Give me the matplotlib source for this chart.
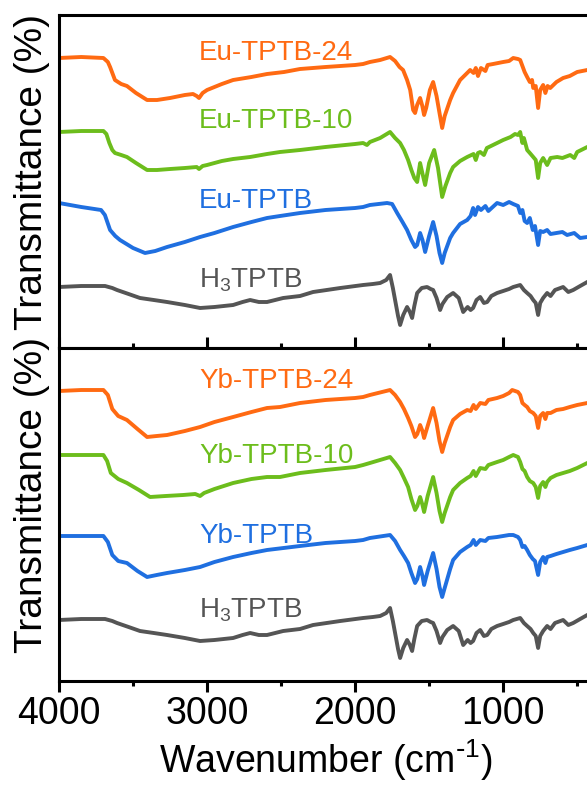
import matplotlib
matplotlib.use('Agg')
import matplotlib.pyplot as plt
from matplotlib.ticker import MultipleLocator

plt.rcParams['font.family'] = ['Liberation Sans', 'DejaVu Sans']
plt.rcParams['mathtext.default'] = 'regular'

# colours of the four series
ORANGE = '#FF6A12'
GREEN = '#6CBD1C'
BLUE = '#1F6FE0'
GRAY = '#555555'

# ---- data (wavenumber in cm-1, transmittance in arbitrary offset units) ----
# H3TPTB ligand, same spectrum in both panels
h3_wn = [4000, 3850, 3689, 3640, 3608, 3530, 3453, 3360, 3270, 3150, 3047, 2950, 2824, 2760, 2709,
         2650, 2595, 2540, 2486, 2372, 2284, 2100, 1946, 1880, 1831, 1790, 1764, 1745, 1730, 1710,
         1696, 1675, 1649, 1630, 1615, 1600, 1581, 1550, 1514, 1490, 1473, 1450, 1426, 1410, 1378,
         1338, 1300, 1270, 1240, 1220, 1203, 1180, 1155, 1130, 1108, 1080, 1041, 1000, 960, 932,
         885, 860, 838, 815, 797, 780, 764, 750, 730, 703, 680, 650, 595, 560, 527, 480, 432, 400]
h3_t = [61, 62, 62, 60, 58, 54, 50, 48, 46, 43, 40, 41, 43, 46, 48,
        46, 46, 48, 50, 52, 56, 60, 63, 64, 65, 68, 73, 60, 48, 32,
        23, 33, 41, 36, 30, 42, 55, 60, 61, 59, 58, 50, 38, 44, 51,
        55, 50, 36, 41, 38, 40, 48, 51, 45, 46, 52, 55, 57, 59, 61,
        63, 58, 55, 52, 48, 45, 33, 45, 50, 55, 52, 58, 61, 56, 58, 62, 66, 68]

# top panel: Eu samples
eu24_wn = [4000, 3850, 3700, 3670, 3655, 3622, 3580, 3541, 3480, 3405, 3338, 3250, 3150, 3095, 3070,
           3054, 3030, 3000, 2900, 2824, 2700, 2595, 2480, 2372, 2200, 2000, 1946, 1900, 1831, 1764,
           1730, 1700, 1676, 1649, 1628, 1608, 1595, 1581, 1561, 1546, 1534, 1520, 1495, 1473, 1450,
           1430, 1412, 1395, 1358, 1338, 1291, 1250, 1223, 1200, 1185, 1170, 1150, 1120, 1105, 1068,
           1000, 960, 932, 900, 885, 870, 855, 838, 820, 805, 797, 780, 764, 750, 730,
           715, 700, 682, 640, 595, 550, 500, 432, 400]
eu24_t = [290, 291, 290, 286, 281, 268, 264, 262, 255, 248, 248, 250, 253, 254, 252,
          250, 255, 258, 264, 268, 271, 274, 276, 279, 281, 283, 284, 286, 288, 291,
          287, 281, 278, 268, 258, 238, 235, 243, 250, 242, 233, 240, 258, 266, 252,
          235, 220, 232, 248, 255, 268, 274, 278, 275, 280, 272, 280, 277, 283, 284,
          286, 287, 290, 289, 288, 282, 276, 271, 266, 268, 260, 262, 240, 258, 263,
          255, 262, 260, 266, 270, 272, 276, 278, 279]

eu10_wn = [4000, 3850, 3700, 3680, 3660, 3640, 3622, 3580, 3541, 3480, 3405, 3338, 3250, 3150, 3070,
           3054, 3030, 3000, 2900, 2824, 2709, 2595, 2507, 2372, 2200, 2000, 1946, 1920, 1900, 1831,
           1764, 1730, 1696, 1670, 1642, 1620, 1600, 1581, 1561, 1546, 1527, 1500, 1466, 1440, 1412,
           1390, 1358, 1338, 1291, 1243, 1200, 1185, 1170, 1155, 1130, 1110, 1041, 1000, 950, 920,
           900, 885, 870, 860, 838, 820, 797, 780, 764, 750, 730, 703, 680, 635, 600,
           547, 520, 500, 432, 400]
eu10_t = [216, 217, 217, 214, 205, 198, 195, 193, 191, 185, 178, 178, 179, 180, 181,
          179, 182, 183, 187, 189, 191, 194, 196, 198, 201, 204, 205, 203, 206, 210,
          216, 210, 205, 198, 188, 178, 170, 166, 185, 175, 163, 185, 198, 180, 151,
          162, 175, 181, 187, 191, 194, 188, 195, 196, 193, 200, 205, 208, 211, 214,
          213, 216, 205, 210, 198, 195, 191, 188, 170, 185, 190, 183, 190, 191, 190,
          193, 190, 196, 201, 202]

eu_wn = [4000, 3850, 3716, 3690, 3655, 3620, 3588, 3500, 3419, 3350, 3270, 3150, 3047, 2950, 2824,
         2700, 2595, 2507, 2372, 2200, 2000, 1946, 1900, 1784, 1750, 1716, 1680, 1649, 1620, 1595,
         1581, 1561, 1545, 1527, 1500, 1473, 1450, 1430, 1412, 1395, 1358, 1338, 1291, 1243, 1220,
         1203, 1190, 1170, 1150, 1120, 1100, 1041, 1000, 960, 932, 900, 885, 870, 855, 838,
         820, 800, 785, 764, 750, 730, 703, 680, 640, 600, 568, 520, 480, 432, 400]
eu_t = [145, 141, 138, 133, 118, 112, 108, 100, 95, 97, 101, 106, 111, 115, 121,
        126, 130, 132, 135, 138, 140, 141, 143, 145, 144, 135, 126, 118, 108, 101,
        103, 115, 108, 96, 112, 126, 112, 95, 85, 95, 110, 115, 124, 128, 132,
        140, 133, 141, 138, 142, 137, 145, 143, 146, 144, 142, 135, 138, 127, 125,
        130, 118, 122, 103, 117, 116, 118, 114, 115, 116, 113, 115, 110, 111, 112]

# bottom panel: Yb samples
yb24_wn = [4000, 3850, 3700, 3670, 3640, 3600, 3541, 3470, 3405, 3340, 3270, 3150, 3047, 2950, 2824,
           2700, 2595, 2507, 2372, 2200, 2000, 1946, 1900, 1764, 1730, 1696, 1670, 1642, 1620, 1595,
           1580, 1561, 1545, 1534, 1510, 1473, 1450, 1430, 1412, 1395, 1358, 1338, 1291, 1243, 1220,
           1200, 1185, 1155, 1120, 1100, 1041, 1000, 960, 939, 900, 885, 870, 855, 838, 820,
           797, 780, 764, 750, 730, 715, 703, 680, 640, 595, 550, 500, 432, 400]
yb24_t = [290, 291, 291, 286, 272, 265, 261, 252, 244, 245, 246, 250, 254, 259, 264,
          269, 273, 274, 278, 281, 283, 284, 286, 291, 286, 279, 272, 263, 255, 244,
          247, 256, 250, 243, 255, 273, 258, 240, 229, 238, 254, 261, 267, 271, 270,
          276, 272, 278, 277, 281, 283, 285, 288, 291, 289, 286, 278, 276, 274, 270,
          268, 265, 253, 265, 268, 262, 268, 268, 271, 272, 274, 276, 278, 279]

yb10_wn = [4000, 3850, 3700, 3675, 3650, 3600, 3541, 3460, 3385, 3280, 3162, 3080, 3047, 3020, 2950,
           2824, 2700, 2595, 2507, 2372, 2200, 2000, 1946, 1900, 1764, 1730, 1696, 1670, 1642, 1620,
           1595, 1580, 1561, 1545, 1534, 1510, 1473, 1450, 1430, 1412, 1395, 1358, 1338, 1291, 1243,
           1220, 1200, 1185, 1155, 1120, 1100, 1041, 1000, 960, 932, 900, 885, 870, 855, 838,
           820, 797, 780, 764, 750, 730, 715, 703, 680, 640, 595, 550, 500, 432, 400]
yb10_t = [226, 226, 226, 220, 208, 202, 198, 191, 184, 185, 186, 187, 185, 188, 192,
          198, 202, 204, 204, 208, 211, 214, 216, 218, 224, 218, 211, 203, 194, 182,
          171, 175, 184, 176, 169, 185, 204, 188, 170, 159, 168, 184, 191, 198, 203,
          205, 210, 205, 213, 212, 216, 219, 221, 224, 226, 224, 219, 212, 210, 204,
          200, 198, 194, 183, 195, 199, 194, 199, 203, 206, 208, 210, 213, 218, 219]

yb_wn = [4000, 3850, 3700, 3670, 3640, 3600, 3541, 3470, 3405, 3340, 3270, 3150, 3047, 2950, 2824,
         2700, 2595, 2372, 2200, 2000, 1946, 1900, 1764, 1730, 1696, 1670, 1642, 1620, 1595, 1580,
         1561, 1545, 1534, 1510, 1473, 1450, 1430, 1412, 1395, 1358, 1338, 1291, 1243, 1220, 1200,
         1185, 1155, 1120, 1100, 1041, 1000, 960, 932, 900, 885, 870, 855, 838, 820, 800,
         785, 764, 750, 730, 715, 703, 680, 640, 595, 550, 500, 432, 400]
yb_t = [145, 145, 145, 139, 126, 120, 118, 110, 104, 106, 108, 111, 114, 119, 124,
        128, 131, 135, 138, 140, 141, 143, 146, 140, 131, 125, 118, 108, 98, 102,
        114, 105, 96, 110, 128, 112, 94, 84, 93, 112, 121, 129, 134, 136, 141,
        136, 141, 140, 143, 144, 145, 146, 146, 144, 141, 134, 135, 131, 126, 122,
        120, 106, 119, 124, 118, 124, 125, 127, 129, 131, 133, 136, 137]

top_series = [(eu24_wn, eu24_t, ORANGE, 'Eu-TPTB-24', 288),
              (eu10_wn, eu10_t, GREEN, 'Eu-TPTB-10', 220),
              (eu_wn, eu_t, BLUE, 'Eu-TPTB', 140),
              (h3_wn, h3_t, GRAY, 'H$_3$TPTB', 61)]
bot_series = [(yb24_wn, yb24_t, ORANGE, 'Yb-TPTB-24', 293),
              (yb10_wn, yb10_t, GREEN, 'Yb-TPTB-10', 218),
              (yb_wn, yb_t, BLUE, 'Yb-TPTB', 138),
              (h3_wn, h3_t, GRAY, 'H$_3$TPTB', 64)]
LABEL_X = 3054

# ---- figure ----
W, H = 587, 787
fig = plt.figure(figsize=(W / 100, H / 100), dpi=100)
left, right = 59 / W, 592 / W
ax_top = fig.add_axes([left, 1 - 348 / H, right - left, 333 / H])
ax_bot = fig.add_axes([left, 1 - 681 / H, right - left, 333 / H])

for ax, series in ((ax_top, top_series), (ax_bot, bot_series)):
    for wn, t, c, name, ty in series:
        ax.plot(wn, t, color=c, lw=2.8, solid_joinstyle='round')
        ax.text(LABEL_X, ty, name, color=c, fontsize=20, ha='left', va='baseline')
    ax.set_xlim(4000, 400)
    ax.set_ylim(0, 333)
    ax.set_yticks([])
    ax.xaxis.set_major_locator(MultipleLocator(1000))
    ax.xaxis.set_minor_locator(MultipleLocator(500))
    for sp in ax.spines.values():
        sp.set_linewidth(2.2)

ax_top.tick_params(axis='x', which='both', direction='in', bottom=True, top=False,
                   labelbottom=False, width=2.2)
ax_top.tick_params(axis='x', which='major', length=8)
ax_top.tick_params(axis='x', which='minor', length=3.6)

ax_bot.tick_params(axis='x', which='both', direction='out', bottom=True, top=False, width=2.2)
ax_bot.tick_params(axis='x', which='major', length=8, pad=3, labelsize=27)
ax_bot.tick_params(axis='x', which='minor', length=3.6)
ax_bot.set_xlabel(r'Wavenumber (cm$^{\text{-}1}$)', fontsize=27, labelpad=4)

fig.text(32 / W, 1 - 172 / H, 'Transmittance (%)', rotation=90, fontsize=28,
         ha='center', va='center')
fig.text(32 / W, 1 - 495 / H, 'Transmittance (%)', rotation=90, fontsize=28,
         ha='center', va='center')

fig.savefig('out.png', dpi=100)
